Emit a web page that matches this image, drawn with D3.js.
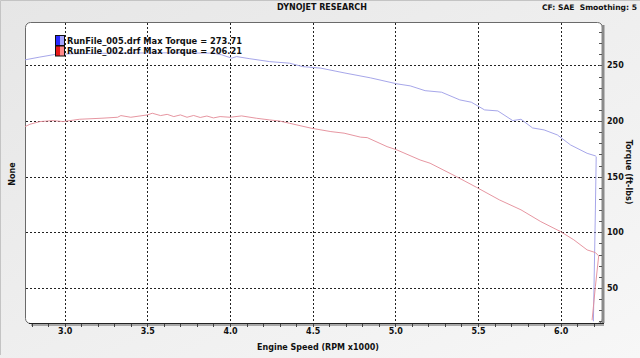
<!DOCTYPE html>
<html>
<head>
<meta charset="utf-8">
<script src="https://cdn.jsdelivr.net/npm/d3@7"></script>
<style>
  html, body { margin: 0; padding: 0; background: #eee; }
  svg { display: block; }
  text { font-family: "DejaVu Sans", Verdana, sans-serif; font-weight: bold; fill: #111; }
</style>
</head>
<body>
<svg id="chart"></svg>
<script>
// ---------------------------------------------------------------
// data (rpm x1000, torque ft-lbs)
// ---------------------------------------------------------------
const run005Rpm = [2.76, 2.85, 2.94, 3.05, 3.3, 3.6, 3.9, 3.95, 4.01, 4.04, 4.12, 4.24, 4.36, 4.44, 4.55,
  4.69, 4.85, 5.01, 5.09, 5.18, 5.28, 5.39, 5.46, 5.54, 5.62, 5.71, 5.76, 5.83, 5.9, 5.98, 6.06,
  6.16, 6.21, 6.215, 6.21, 6.198];
const run005Torque = [255, 257.5, 259.8, 260.5, 261, 261.3, 261, 259.5, 256.5, 257.9, 256, 253.4, 252, 248.9, 247.5,
  243.3, 238.8, 233.4, 231.6, 227.3, 225.9, 219, 216.9, 210, 209.1, 200.4, 201.6, 193.8, 192, 187.5, 178.5,
  171, 168.7, 168, 120, 20];

const run002Rpm = [2.76, 2.79, 2.85, 2.93, 2.99, 3.09, 3.22, 3.32, 3.34, 3.4, 3.5, 3.53, 3.58, 3.62, 3.66,
  3.7, 3.74, 3.78, 3.82, 3.86, 3.9, 3.94, 4.0, 4.07, 4.16, 4.24, 4.3, 4.36, 4.49, 4.61, 4.69, 4.79,
  4.83, 4.95, 5.01, 5.15, 5.21, 5.37, 5.49, 5.63, 5.76, 5.88, 6.0, 6.08, 6.16, 6.21, 6.23, 6.21, 6.19];
const run002Torque = [195, 197.1, 199.5, 200.4, 199.5, 201.6, 202.5, 203.4, 204.9, 203.4, 205.5, 207, 204.9, 206, 204,
  205.5, 203.4, 205, 203.2, 204.5, 202.8, 204, 203.4, 204.6, 202.5, 201, 200, 198, 193.6, 190.5, 189.1, 185.5,
  185.1, 177, 174, 165, 162.1, 150, 140.5, 129.1, 120.2, 109.6, 100.6, 93.2, 84.2, 81.8, 78.8, 51.2, 21];

const legendLabels = ["RunFile_005.drf Max Torque = 273.71", "RunFile_002.drf Max Torque = 206.21"];
const rpmTicks = [3.0, 3.5, 4.0, 4.5, 5.0, 5.5, 6.0];
const torqueTicks = [50, 100, 150, 200, 250];

// ---------------------------------------------------------------
// svg + scales
// ---------------------------------------------------------------
const width = 640, height = 358;
const plot = { left: 25, top: 22, right: 602, bottom: 323 };

const svg = d3.select("#chart").attr("width", width).attr("height", height);

const x = d3.scaleLinear().domain([2.76, 6.25]).range([plot.left, plot.right]);
const y = d3.scaleLinear().domain([18.5, 289]).range([plot.bottom, plot.top]);

// background (light grey panel)
const defs = svg.append("defs");
const bg = defs.append("linearGradient").attr("id", "bg")
  .attr("x1", 0).attr("y1", 0).attr("x2", 1).attr("y2", 1);
bg.append("stop").attr("offset", 0).attr("stop-color", "#e6e6e6");
bg.append("stop").attr("offset", 1).attr("stop-color", "#f7f7f7");

svg.append("rect").attr("width", width).attr("height", height).attr("fill", "url(#bg)");
svg.append("path").attr("d", `M0.5,${height - 3} V0.5 H${width}`)
  .attr("fill", "none").attr("stroke", "#c4c4c4");

// swatch gradients
[["blueSw", "#2a2aff", "#a4a4ff"], ["redSw", "#e81818", "#ff8a8a"]].forEach(([id, c1, c2]) => {
  const g = defs.append("linearGradient").attr("id", id);
  g.append("stop").attr("offset", 0.45).attr("stop-color", c1);
  g.append("stop").attr("offset", 0.55).attr("stop-color", c2);
});

// plot box
svg.append("rect")
  .attr("x", plot.left + 0.5).attr("y", plot.top + 0.5)
  .attr("width", plot.right - plot.left).attr("height", plot.bottom - plot.top)
  .attr("rx", 5)
  .attr("fill", "#fff").attr("stroke", "#6a6a6a");

// ---------------------------------------------------------------
// grid
// ---------------------------------------------------------------
const grid = svg.append("g").attr("stroke", "#222").attr("stroke-dasharray", "2,2").attr("stroke-width", 1);
grid.selectAll(".vg").data(rpmTicks).join("line")
  .attr("x1", d => Math.round(x(d)) + 0.5).attr("x2", d => Math.round(x(d)) + 0.5)
  .attr("y1", plot.top + 1).attr("y2", plot.bottom);
grid.selectAll(".hg").data(torqueTicks).join("line")
  .attr("y1", d => Math.round(y(d)) + 0.5).attr("y2", d => Math.round(y(d)) + 0.5)
  .attr("x1", plot.left + 1).attr("x2", plot.right);

// ---------------------------------------------------------------
// curves
// ---------------------------------------------------------------
const line = d3.line().x(d => x(d[0])).y(d => y(d[1]));
svg.append("path")
  .datum(d3.zip(run005Rpm, run005Torque))
  .attr("d", line).attr("fill", "none").attr("stroke", "#9c9ce6").attr("stroke-width", 0.9);
svg.append("path")
  .datum(d3.zip(run002Rpm, run002Torque))
  .attr("d", line).attr("fill", "none").attr("stroke", "#e38a96").attr("stroke-width", 0.9);

// ---------------------------------------------------------------
// axes
// ---------------------------------------------------------------
// right axis: thick grey bar, minor ticks inside, labels outside
svg.append("line")
  .attr("x1", plot.right + 1).attr("x2", plot.right + 1)
  .attr("y1", plot.top + 3).attr("y2", plot.bottom)
  .attr("stroke", "#8a8a8a").attr("stroke-width", 3);

const yMinor = d3.range(20, 290, 10);
svg.append("g").selectAll("line").data(yMinor).join("line")
  .attr("x1", plot.right - 3).attr("x2", plot.right)
  .attr("y1", d => Math.round(y(d)) + 0.5).attr("y2", d => Math.round(y(d)) + 0.5)
  .attr("stroke", "#555");

const yAxis = svg.append("g")
  .attr("transform", `translate(${plot.right + 3},0)`)
  .call(d3.axisRight(y).tickValues(torqueTicks).tickSize(0).tickPadding(2));
yAxis.select(".domain").remove();
yAxis.selectAll("text").attr("font-size", 8).attr("fill", "#222")
  .style("font-family", "'DejaVu Sans', sans-serif").style("font-weight", "bold");

// bottom axis
svg.append("line")
  .attr("x1", plot.left + 4).attr("x2", plot.right + 2)
  .attr("y1", plot.bottom + 0.5).attr("y2", plot.bottom + 0.5)
  .attr("stroke", "#222");
svg.append("line")
  .attr("x1", plot.left + 6).attr("x2", plot.right + 2)
  .attr("y1", plot.bottom + 2).attr("y2", plot.bottom + 2)
  .attr("stroke", "#a8a8a8").attr("stroke-width", 2);

const xMinor = d3.range(2.8, 6.25, 0.1);
svg.append("g").selectAll("line").data(xMinor).join("line")
  .attr("x1", d => Math.round(x(d)) + 0.5).attr("x2", d => Math.round(x(d)) + 0.5)
  .attr("y1", plot.bottom + 1).attr("y2", plot.bottom + 4)
  .attr("stroke", "#444");

const xAxis = svg.append("g")
  .attr("transform", `translate(0,${plot.bottom + 4})`)
  .call(d3.axisBottom(x).tickValues(rpmTicks).tickFormat(d3.format(".1f")).tickSize(0).tickPadding(1));
xAxis.select(".domain").remove();
xAxis.selectAll("text").attr("font-size", 8).attr("fill", "#222")
  .style("font-family", "'DejaVu Sans', sans-serif").style("font-weight", "bold");

// ---------------------------------------------------------------
// titles
// ---------------------------------------------------------------
svg.append("text").attr("x", 322).attr("y", 10).attr("text-anchor", "middle")
  .attr("font-size", 8).text("DYNOJET RESEARCH");
svg.append("text").attr("x", 637).attr("y", 10).attr("text-anchor", "end")
  .attr("font-size", 7.6).attr("xml:space", "preserve").text("CF: SAE  Smoothing: 5");
svg.append("text").attr("x", 318).attr("y", 350).attr("text-anchor", "middle")
  .attr("font-size", 8).text("Engine Speed (RPM x1000)");
svg.append("text").attr("transform", "translate(15,174) rotate(-90)").attr("text-anchor", "middle")
  .attr("font-size", 8).text("None");
svg.append("text").attr("transform", "translate(626,172) rotate(90)").attr("text-anchor", "middle")
  .attr("font-size", 8).text("Torque (ft-lbs)");

// ---------------------------------------------------------------
// legend
// ---------------------------------------------------------------
const legend = svg.append("g");
legendLabels.forEach((label, i) => {
  legend.append("rect")
    .attr("x", 55.5).attr("y", 35.5 + i * 10.5).attr("width", 9).attr("height", 10)
    .attr("fill", i === 0 ? "url(#blueSw)" : "url(#redSw)").attr("stroke", "#111");
  legend.append("text")
    .attr("x", 67).attr("y", 43.5 + i * 10.5)
    .attr("font-size", 8.3).text(label);
});
</script>
</body>
</html>
